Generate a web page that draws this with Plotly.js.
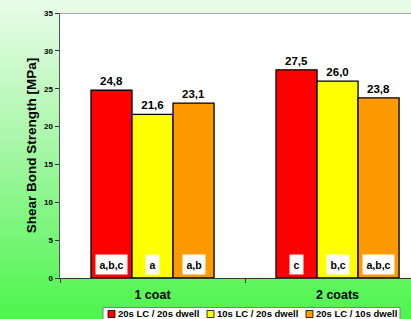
<!DOCTYPE html>
<html>
<head>
<meta charset="utf-8">
<script src="https://cdn.plot.ly/plotly-3.0.1.min.js"></script>
<style>
  html, body { margin: 0; padding: 0; width: 411px; height: 319px; overflow: hidden;
    background: linear-gradient(to bottom, #e9fce9 0%, #a8f7a8 45%, #4cf54c 100%); }
  #chart { width: 411px; height: 319px; }
</style>
</head>
<body>
<div id="chart"></div>
<script>
// ---- data ----
const categories = ["1 coat", "2 coats"];
const seriesNames = ["20s LC / 20s dwell", "10s LC / 20s dwell", "20s LC / 10s dwell"];
const seriesColors = ["#ff0000", "#ffff00", "#ff9900"];
const redValues = [24.8, 27.5];
const yellowValues = [21.6, 26.0];
const orangeValues = [23.1, 23.8];
const redLetters = ["a,b,c", "c"];
const yellowLetters = ["a", "b,c"];
const orangeLetters = ["a,b", "a,b,c"];
const yTicks = [0, 5, 10, 15, 20, 25, 30, 35];

const allValues = [redValues, yellowValues, orangeValues];
const allLetters = [redLetters, yellowLetters, orangeLetters];

const FONT = "Arial, 'Liberation Sans', sans-serif";
const bargap = 0.335;
const barW = (1 - bargap) / 3;

const fmt = v => v.toFixed(1).replace(".", ",");

const traces = allValues.map((vals, j) => ({
  type: "bar",
  name: seriesNames[j],
  x: categories,
  y: vals,
  text: vals.map(fmt),
  textposition: "outside",
  textfont: { family: FONT, size: 11.5, color: "#000", weight: "bold" },
  cliponaxis: false,
  marker: { color: seriesColors[j], line: { color: "#000", width: 1.3 } },
  hoverinfo: "skip",
  showlegend: false
}));

const annotations = [];
allLetters.forEach((letters, j) => {
  letters.forEach((lab, i) => {
    annotations.push({
      x: i + (j - 1) * barW, xref: "x",
      y: 1.8, yref: "y",
      text: lab, showarrow: false,
      font: { family: FONT, size: 10.5, color: "#000", weight: "bold" },
      bgcolor: "#ffffff", borderpad: 3.5,
      xanchor: "center", yanchor: "middle"
    });
  });
});

// custom legend (paper coords)
const L = 60, PW = 351, B = 278, PH = 265;
const px = v => (v - L) / PW;
const py = v => (B - v) / PH;
const shapes = [
  { type: "line", xref: "paper", yref: "y", x0: 0, x1: 1, y0: 35, y1: 35,
    line: { color: "#8a8a8a", width: 1.5 } },
  { type: "rect", xref: "paper", yref: "paper", x0: px(103), x1: px(400), y0: py(325), y1: py(307.5),
    fillcolor: "#ffffff", line: { color: "#808080", width: 1 } }
];
const legStarts = [108, 207, 306];
seriesNames.forEach((nm, j) => {
  shapes.push({ type: "rect", xref: "paper", yref: "paper",
    x0: px(legStarts[j]), x1: px(legStarts[j] + 7), y0: py(317.5), y1: py(310.5),
    fillcolor: seriesColors[j], line: { color: "#000", width: 0.8 } });
  annotations.push({ xref: "paper", yref: "paper", x: px(legStarts[j] + 8), y: py(313.3),
    xanchor: "left", yanchor: "middle", showarrow: false, text: nm,
    font: { family: FONT, size: 9.5, color: "#000", weight: "bold" } });
});

const layout = {
  width: 411, height: 319,
  margin: { l: 60, r: 0, t: 13, b: 41 },
  paper_bgcolor: "rgba(0,0,0,0)",
  plot_bgcolor: "#ffffff",
  barmode: "group",
  bargap: bargap,
  bargroupgap: 0,
  showlegend: false,
  xaxis: {
    type: "category",
    range: [-0.5, 1.397],
    tickson: "boundaries",
    ticks: "outside", ticklen: 4, tickcolor: "#333",
    showline: true, linecolor: "#333", linewidth: 1.3,
    tickfont: { family: FONT, size: 12.5, color: "#000", weight: "bold" },
    ticklabelstandoff: 5,
    showgrid: false, zeroline: false, fixedrange: true
  },
  yaxis: {
    range: [0, 35],
    tickvals: yTicks,
    ticktext: yTicks.map(String),
    ticks: "outside", ticklen: 4, tickcolor: "#333",
    showline: true, linecolor: "#555", linewidth: 1.5,
    tickfont: { family: FONT, size: 8, color: "#000", weight: "bold" },
    showgrid: false, zeroline: false, fixedrange: true,
    title: { text: "Shear Bond Strength [MPa]", standoff: 4,
      font: { family: FONT, size: 13.5, color: "#000", weight: "bold" } }
  },
  annotations: annotations,
  shapes: shapes
};

Plotly.newPlot("chart", traces, layout, { displayModeBar: false, staticPlot: true });
</script>
</body>
</html>
